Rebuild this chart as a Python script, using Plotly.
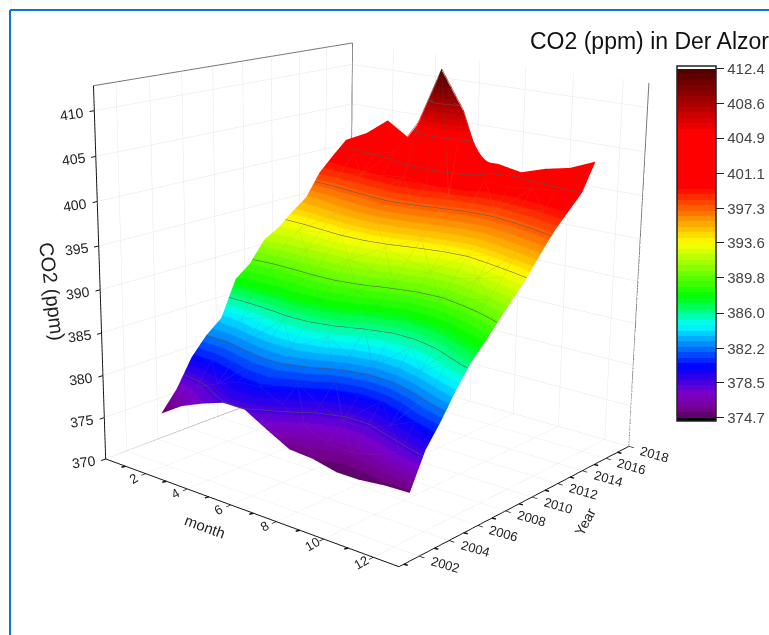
import numpy as np
import plotly.graph_objects as go

months = [1,2,3,4,5,6,7,8,9,10,11,12]
years = list(range(2003,2017))
co2 = [
 [374.7,376.4,377.5,378.4,378.4,376.9,375.5,375.3,374.7,374.7,375.0,375.1],
 [377.0,377.9,379.0,380.0,380.2,378.9,377.2,376.2,376.0,376.6,377.8,379.0],
 [380.2,380.4,381.0,381.6,381.7,380.7,379.0,378.0,378.0,379.2,380.4,381.4],
 [382.3,382.3,382.9,383.4,383.5,382.7,381.1,380.2,380.4,381.4,382.8,384.1],
 [383.8,384.3,385.0,385.6,385.6,384.9,383.5,382.8,383.0,384.0,385.3,386.5],
 [388.0,387.8,387.8,388.0,387.9,387.2,385.9,385.1,385.3,386.0,387.2,388.2],
 [389.4,389.2,389.4,389.6,389.6,389.1,388.1,387.2,387.3,388.0,389.0,390.1],
 [391.8,391.6,391.6,391.7,391.6,391.1,390.2,389.5,389.4,390.1,390.9,391.9],
 [392.8,392.9,393.2,393.5,393.5,393.1,392.3,391.6,391.4,392.0,392.8,393.7],
 [394.3,394.5,394.9,395.3,395.4,395.0,394.3,393.7,393.5,394.2,395.0,395.9],
 [395.6,396.0,396.7,397.2,397.5,397.1,396.4,395.8,395.6,396.2,397.0,397.9],
 [398.3,398.5,398.9,399.3,399.6,399.2,398.4,397.8,397.7,398.3,398.9,399.5],
 [400.0,400.5,401.0,401.8,405.7,412.4,408.0,400.4,400.0,400.4,400.7,401.1],
 [401.6,402.9,404.9,403.2,403.5,404.0,401.9,402.0,401.5,402.4,403.0,404.2],
]
cb_ticks = [374.7,378.5,382.2,386.0,389.8,393.6,397.3,401.1,404.9,408.6,412.4]
cb_text = ["374.7","378.5","382.2","386.0","389.8","393.6","397.3","401.1","404.9","408.6","412.4"]
x_ticks = [2,4,6,8,10,12]
y_ticks = list(range(2002,2019,2))
z_ticks = list(range(370,411,5))
x_range = [0,13]; y_range = [2000.7,2018]; z_range = [370,412.7]
color_anchors = [(374.7,(85,0,95)),(375.6,(115,0,140)),(377.2,(125,0,200)),(380.2,(0,0,255)),
                 (384.7,(0,255,255)),(387.8,(0,255,0)),(393.6,(255,255,0)),(399.6,(255,0,0)),
                 (405.5,(255,0,0)),(408.6,(170,0,0)),(412.4,(75,0,0))]
cmin, cmax = 374.35, 412.7
FONT = "Liberation Sans"
W, H = 769, 1452
SHIFT = 452
EYE = np.array([2.80,-3.40,1.26])
VIEW_CX = 373
ROLL = 0.012

def px(u): return u/W
def py(v): return 1-(v+SHIFT)/H

_f = -EYE/np.linalg.norm(EYE)
_r0 = np.cross(_f,[0,0,1]); _r0/=np.linalg.norm(_r0)
_u0 = np.cross(_r0,_f)
_r = _r0*np.cos(ROLL)+_u0*np.sin(ROLL)
_u = _u0*np.cos(ROLL)-_r0*np.sin(ROLL)
FOC = H/(2*np.tan(np.pi/8))
def project(x,y,z):
    p = np.array([(x-x_range[0])/(x_range[1]-x_range[0])-.5,(y-y_range[0])/(y_range[1]-y_range[0])-.5,(z-z_range[0])/(z_range[1]-z_range[0])-.5])-EYE
    d = p@_f
    return VIEW_CX+FOC*(p@_r)/d, H/2-SHIFT-FOC*(p@_u)/d

def rgb_at(v):
    for (a,ca),(b,cb) in zip(color_anchors,color_anchors[1:]):
        if v <= b:
            t = max(0,(v-a)/(b-a))
            return tuple(round(p+(q-p)*t) for p,q in zip(ca,cb))
    return (75,0,0)
def col_at(v): return "rgb(%d,%d,%d)" % rgb_at(v)
def build_scale(n=64):
    lo, hi = 374.7, 412.4
    norm = lambda v: (v-cmin)/(cmax-cmin)
    s = [[0,"black"],[norm(lo),"black"]]
    for i in range(n):
        a = lo+(hi-lo)*i/n; b = lo+(hi-lo)*(i+1)/n
        c = col_at((a+b)/2)
        s += [[norm(a),c],[norm(b),c]]
    s += [[norm(hi),"white"],[1,"white"]]
    return s
def mesh_scale(n=40):
    lo, hi = 374.7, 412.4
    out=[]
    for i in range(n+1):
        v=lo+(hi-lo)*i/n
        r,g,b=rgb_at(v)
        out.append([i/n,"rgb(%d,%d,%d)"%(r*.85+20,g*.85+20,b*.85+20)])
    return out

fig = go.Figure()
fig.add_surface(x=months,y=years,z=co2,cmin=cmin,cmax=cmax,colorscale=build_scale(),hoverinfo="skip",
    lighting=dict(ambient=1,diffuse=0,specular=0,roughness=1,fresnel=0),
    contours=dict(z=dict(show=True,start=374.7,end=412.5,size=3.77,color="#555555",width=2)),
    colorbar=dict(x=px(677),xanchor="left",y=py(66),yanchor="top",lenmode="pixels",len=355,
        thicknessmode="pixels",thickness=39,xpad=0,ypad=0,tickmode="array",tickvals=cb_ticks,ticktext=cb_text,
        ticks="outside",ticklen=8,tickcolor="#222",tickfont=dict(family=FONT,size=15,color="#444"),
        outlinecolor="#222",outlinewidth=1.5))

# faint triangulated mesh: each edge is a slightly darker tone of the surface colour beneath it
MESH_LIFT = 0.15
mx,my,mz,mc=[],[],[],[]
nr,nc=len(years),len(months)
def on_rim(i,j): return i in (0,nr-1) or j in (0,nc-1)
def mesh_seg(i0,j0,i1,j1):
    if on_rim(i0,j0) or on_rim(i1,j1): return
    a,b=co2[i0][j0],co2[i1][j1]
    mx.extend([months[j0],months[j1],None]); my.extend([years[i0],years[i1],None])
    mz.extend([a+MESH_LIFT,b+MESH_LIFT,None]); mc.extend([a,b,b])
for i in range(nr):
    for j in range(nc):
        if j+1<nc: mesh_seg(i,j,i,j+1)
        if i+1<nr: mesh_seg(i,j,i+1,j)
        if i+1<nr and j+1<nc:
            if (i+j)%2: mesh_seg(i,j,i+1,j+1)
            else: mesh_seg(i,j+1,i+1,j)
fig.add_scatter3d(x=mx,y=my,z=mz,mode="lines",line=dict(color=mc,colorscale=mesh_scale(),cmin=374.7,cmax=412.4,width=1),hoverinfo="skip",showlegend=False)

def seg(xs,ys,zs,color,width):
    fig.add_scatter3d(x=xs,y=ys,z=zs,mode="lines",line=dict(color=color,width=width),hoverinfo="skip",showlegend=False)
x0,x1=x_range; y0,y1=y_range; z0,z1=z_range
GR="#777777"
seg([x0,x0,x1,x1],[y0,y1,y1,y1],[z1,z1,z1,z0],GR,2)
seg([x0,x0],[y1,y1],[z0,z1],GR,2)
seg([x0,x0,x1],[y0,y1,y1],[z0,z0,z0],GR,2)

shapes=[dict(type="line",xref="paper",yref="paper",x0=px(10),x1=1,y0=py(10),y1=py(10),line=dict(color="#0a78d2",width=2)),
        dict(type="line",xref="paper",yref="paper",x0=px(10),x1=px(10),y0=py(640),y1=py(10),line=dict(color="#0a78d2",width=2))]
def tick_shape(p,q):
    shapes.append(dict(type="line",xref="paper",yref="paper",x0=px(p[0]),y0=py(p[1]),x1=px(q[0]),y1=py(q[1]),line=dict(color="#111",width=1.5)))
for m in range(1,13):
    if m not in x_ticks:
        p=project(m,y0,z0); tick_shape(p,(p[0]-4,p[1]+1))
for yr in range(2001,2018):
    if yr not in y_ticks:
        p=project(x1,yr,z0); tick_shape(p,(p[0]+4,p[1]+1))

def ann(u,v,text,angle,size=13,color="#222"):
    return dict(xref="paper",yref="paper",x=px(u),y=py(v),xanchor="center",yanchor="middle",text=text,textangle=angle,showarrow=False,font=dict(family=FONT,size=size,color=color))
anns=[dict(xref="paper",yref="paper",x=px(528),y=py(41),xanchor="left",yanchor="middle",text="CO2 (ppm) in Der Alzor",showarrow=False,font=dict(family=FONT,size=23,color="#111"))]
for m in x_ticks:
    u,v=project(m,y0,z0); anns.append(ann(u-12,v+5,str(m),-30))
for yr in y_ticks:
    u,v=project(x1,yr,z0); anns.append(ann(u+26,v+8,str(yr),16))
for zv in z_ticks:
    u,v=project(x0,y0,zv); anns.append(ann(u-22,v+3,str(zv),-8,14))
anns.append(ann(205,527,"month",20,15))
anns.append(ann(585,522,"Year",-62,14))
anns.append(ann(52,291,"CO2 (ppm)",83,20))

def axis(rng,vals):
    return dict(range=rng,tickmode="array",tickvals=vals,showticklabels=False,title=dict(text=""),showgrid=True,gridcolor="#e6e6e6",gridwidth=1,
        showbackground=True,backgroundcolor="white",showline=True,linecolor="#111",linewidth=2,zeroline=False,ticks="outside",ticklen=5,tickcolor="#111",tickwidth=2,showspikes=False)
fig.update_layout(width=W,height=H,margin=dict(l=0,r=0,t=0,b=0),paper_bgcolor="white",showlegend=False,
    scene=dict(domain=dict(x=[0,2*VIEW_CX/W],y=[0,1]),xaxis=axis(x_range,x_ticks),yaxis=axis(y_range,y_ticks),zaxis=axis(z_range,z_ticks),
        aspectmode="manual",aspectratio=dict(x=1,y=1,z=1),
        camera=dict(eye=dict(x=float(EYE[0]),y=float(EYE[1]),z=float(EYE[2])),up=dict(x=float(_u[0]),y=float(_u[1]),z=float(_u[2])),center=dict(x=0,y=0,z=0),projection=dict(type="perspective"))),
    annotations=anns,shapes=shapes)
post = ("document.body.style.margin='0';document.body.style.overflow='hidden';document.documentElement.style.overflow='hidden';"
        "var g=document.querySelector('.plotly-graph-div');g.style.position='absolute';g.style.left='0';g.style.top='-%dpx';" % SHIFT)
fig.write_html("out.html",post_script=post,config=dict(displayModeBar=False,responsive=False))
